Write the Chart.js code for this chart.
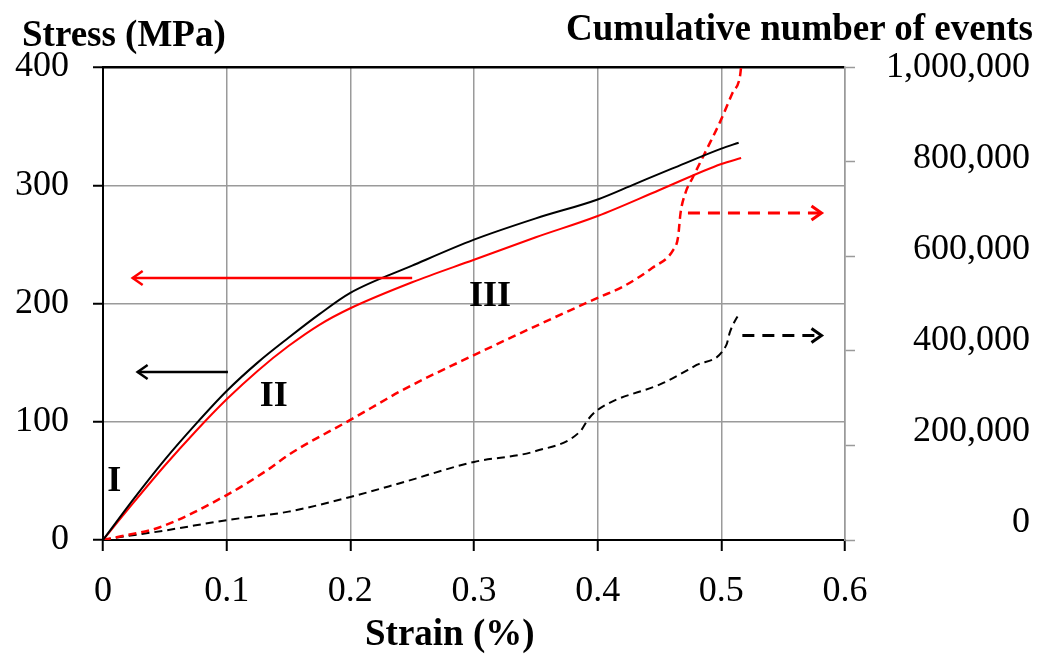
<!DOCTYPE html>
<html>
<head>
<meta charset="utf-8">
<script src="https://cdn.jsdelivr.net/npm/chart.js@4"></script>
<style>
  body { margin: 0; background: #fff; }
  #wrap { position: relative; width: 1039px; height: 655px; }
  .lbl { position: absolute; font-family: "Liberation Serif", "Times New Roman", serif; font-weight: bold; font-size: 37px; line-height: 37px; color: #000; white-space: nowrap; }
</style>
</head>
<body>
<div id="wrap">
  <canvas id="chart" width="1039" height="655"></canvas>
  <div class="lbl" style="left:22px; top:15px;">Stress (MPa)</div>
  <div class="lbl" style="right:6px; top:9px;">Cumulative number of events</div>
  <div class="lbl" id="xtitle" style="left:365px; top:614px;">Strain (%)</div>
</div>
<script>
// stress-strain curves (left axis, MPa)
const strainBlack = [0, 0.025, 0.05, 0.075, 0.1, 0.125, 0.15, 0.175, 0.2, 0.25, 0.3, 0.35, 0.4, 0.43, 0.46, 0.5, 0.514];
const stressBlack = [0, 35, 68, 98, 126, 150, 171, 191, 209, 232, 254, 272, 288, 301, 314, 331, 336];

const strainRed = [0, 0.025, 0.05, 0.075, 0.1, 0.125, 0.15, 0.175, 0.2, 0.25, 0.3, 0.35, 0.4, 0.45, 0.5, 0.516];
const stressRed = [0, 32, 63, 92, 119, 143, 164, 182, 196, 218, 237, 256, 274, 296, 318, 323];

// cumulative events (right axis)
const strainRedEv = [0, 0.011, 0.046, 0.1, 0.133, 0.15, 0.2, 0.224, 0.24, 0.3, 0.4, 0.42, 0.444, 0.461, 0.465, 0.467, 0.471, 0.477, 0.488, 0.499, 0.509, 0.515, 0.516];
const eventsRed = [0, 6000, 27000, 95000, 148000, 180000, 254000, 290000, 314000, 391000, 512000, 535000, 575000, 613000, 640000, 691000, 734000, 767000, 825000, 884000, 945000, 979000, 1000000];

const strainBlackEv = [0, 0.011, 0.05, 0.1, 0.15, 0.2, 0.24, 0.3, 0.35, 0.386, 0.392, 0.4, 0.453, 0.48, 0.504, 0.507, 0.515];
const eventsBlack = [0, 5000, 20000, 42000, 60000, 91000, 120000, 165000, 188000, 230000, 254000, 275000, 332000, 370000, 412000, 440000, 482000];

const rightTicks = [0, 200000, 400000, 600000, 800000, 1000000];

// annotation arrows (strain from, strain to, stress level)
const arrowFrom = [0.25, 0.101, 0.473, 0.517];
const arrowTo = [0.024, 0.028, 0.581, 0.581];
const arrowLevel = [221.6, 142, 276.5, 173];
const arrowColor = ["#ff0000", "#000000", "#ff0000", "#000000"];
const arrowDashed = [false, false, true, true];

// region labels
const regionText = ["I", "II", "III"];
const regionStrain = [0.009, 0.138, 0.313];
const regionStress = [49, 121, 206];

const pts = (xs, ys) => xs.map((x, i) => ({ x: x, y: ys[i] }));

const serif = '"Liberation Serif", "Times New Roman", serif';

const annotations = {
  id: "annotations",
  afterDatasetsDraw(chart) {
    const { ctx, scales } = chart;
    const xs = scales.x, ys = scales.y;
    ctx.save();
    arrowFrom.forEach((x1, i) => {
      const px1 = xs.getPixelForValue(x1);
      const px2 = xs.getPixelForValue(arrowTo[i]);
      const py = ys.getPixelForValue(arrowLevel[i]);
      const dir = px2 > px1 ? 1 : -1;
      ctx.strokeStyle = arrowColor[i];
      ctx.lineWidth = arrowDashed[i] ? 3 : 2.5;
      ctx.setLineDash(arrowDashed[i] ? [12, 8] : []);
      ctx.beginPath();
      ctx.moveTo(px1, py);
      ctx.lineTo(px2, py);
      ctx.stroke();
      ctx.setLineDash([]);
      ctx.beginPath();
      ctx.moveTo(px2 - dir * 10, py - 7);
      ctx.lineTo(px2, py);
      ctx.lineTo(px2 - dir * 10, py + 7);
      ctx.stroke();
    });
    ctx.fillStyle = "#000";
    ctx.font = "bold 36px " + serif;
    ctx.textAlign = "center";
    ctx.textBaseline = "middle";
    regionText.forEach((t, i) => {
      ctx.fillText(t, xs.getPixelForValue(regionStrain[i]), ys.getPixelForValue(regionStress[i]));
    });
    ctx.restore();
  }
};

new Chart(document.getElementById("chart"), {
  type: "line",
  data: {
    datasets: [
      {
        label: "Stress (black)",
        data: pts(strainBlack, stressBlack),
        borderColor: "#000000",
        borderWidth: 2,
        yAxisID: "y",
      },
      {
        label: "Stress (red)",
        data: pts(strainRed, stressRed),
        borderColor: "#ff0000",
        borderWidth: 2,
        yAxisID: "y",
      },
      {
        label: "Events (red)",
        data: pts(strainRedEv, eventsRed),
        borderColor: "#ff0000",
        borderWidth: 2.5,
        borderDash: [8, 5],
        yAxisID: "y2",
      },
      {
        label: "Events (black)",
        data: pts(strainBlackEv, eventsBlack),
        borderColor: "#000000",
        borderWidth: 2,
        borderDash: [8, 5],
        yAxisID: "y2",
      },
    ],
  },
  options: {
    responsive: false,
    animation: false,
    layout: { padding: { top: 67, right: 9, bottom: 0, left: 0 } },
    elements: {
      point: { radius: 0 },
      line: { cubicInterpolationMode: "monotone", fill: false },
    },
    plugins: { legend: { display: false }, tooltip: { enabled: false } },
    scales: {
      x: {
        type: "linear",
        min: 0,
        max: 0.6,
        afterFit: (s) => { s.height = 115; },
        ticks: {
          stepSize: 0.1,
          color: "#000",
          font: { family: serif, size: 36 },
          padding: 19,
          callback: (v) => Number(v.toFixed(1)).toString(),
        },
        grid: {
          color: (c) => (c.tick && c.tick.value === 0 ? "rgba(0,0,0,0)" : "#9a9a9a"),
          lineWidth: 1.5,
          tickLength: 11,
          tickColor: "#000",
          tickWidth: 2,
        },
        border: { color: "#000", width: 2 },
      },
      y: {
        position: "left",
        min: 0,
        max: 400,
        afterFit: (s) => { s.width = 103; },
        ticks: {
          stepSize: 100,
          color: "#000",
          font: { family: serif, size: 36 },
          padding: 24,
        },
        grid: {
          color: (c) => (c.tick && c.tick.value === 400 ? "#000" : "#9a9a9a"),
          lineWidth: (c) => (c.tick && c.tick.value === 400 ? 2.5 : 1.5),
          tickLength: 10,
          tickColor: "#000",
          tickWidth: 2,
        },
        border: { color: "#000", width: 2 },
      },
      y2: {
        position: "right",
        weight: 0,
        min: 0,
        max: 1000000,
        afterFit: (s) => { s.width = 12; },
        afterBuildTicks: (s) => { s.ticks = rightTicks.map((v) => ({ value: v })); },
        ticks: { display: false },
        grid: {
          drawOnChartArea: false,
          tickLength: 10,
          tickColor: "#9a9a9a",
          tickWidth: 1.5,
        },
        border: { color: "#9a9a9a", width: 1.5 },
      },
      y3: {
        position: "right",
        weight: 1,
        min: -37363,
        max: 1002198,
        afterFit: (s) => { s.width = 173; },
        afterBuildTicks: (s) => { s.ticks = rightTicks.map((v) => ({ value: v })); },
        ticks: {
          color: "#000",
          crossAlign: "far",
          padding: 0,
          font: { family: serif, size: 36 },
          callback: (v) => v.toLocaleString("en-US"),
        },
        grid: { display: false, drawTicks: false },
        border: { display: false },
      },
    },
  },
  plugins: [annotations],
});
</script>
</body>
</html>
